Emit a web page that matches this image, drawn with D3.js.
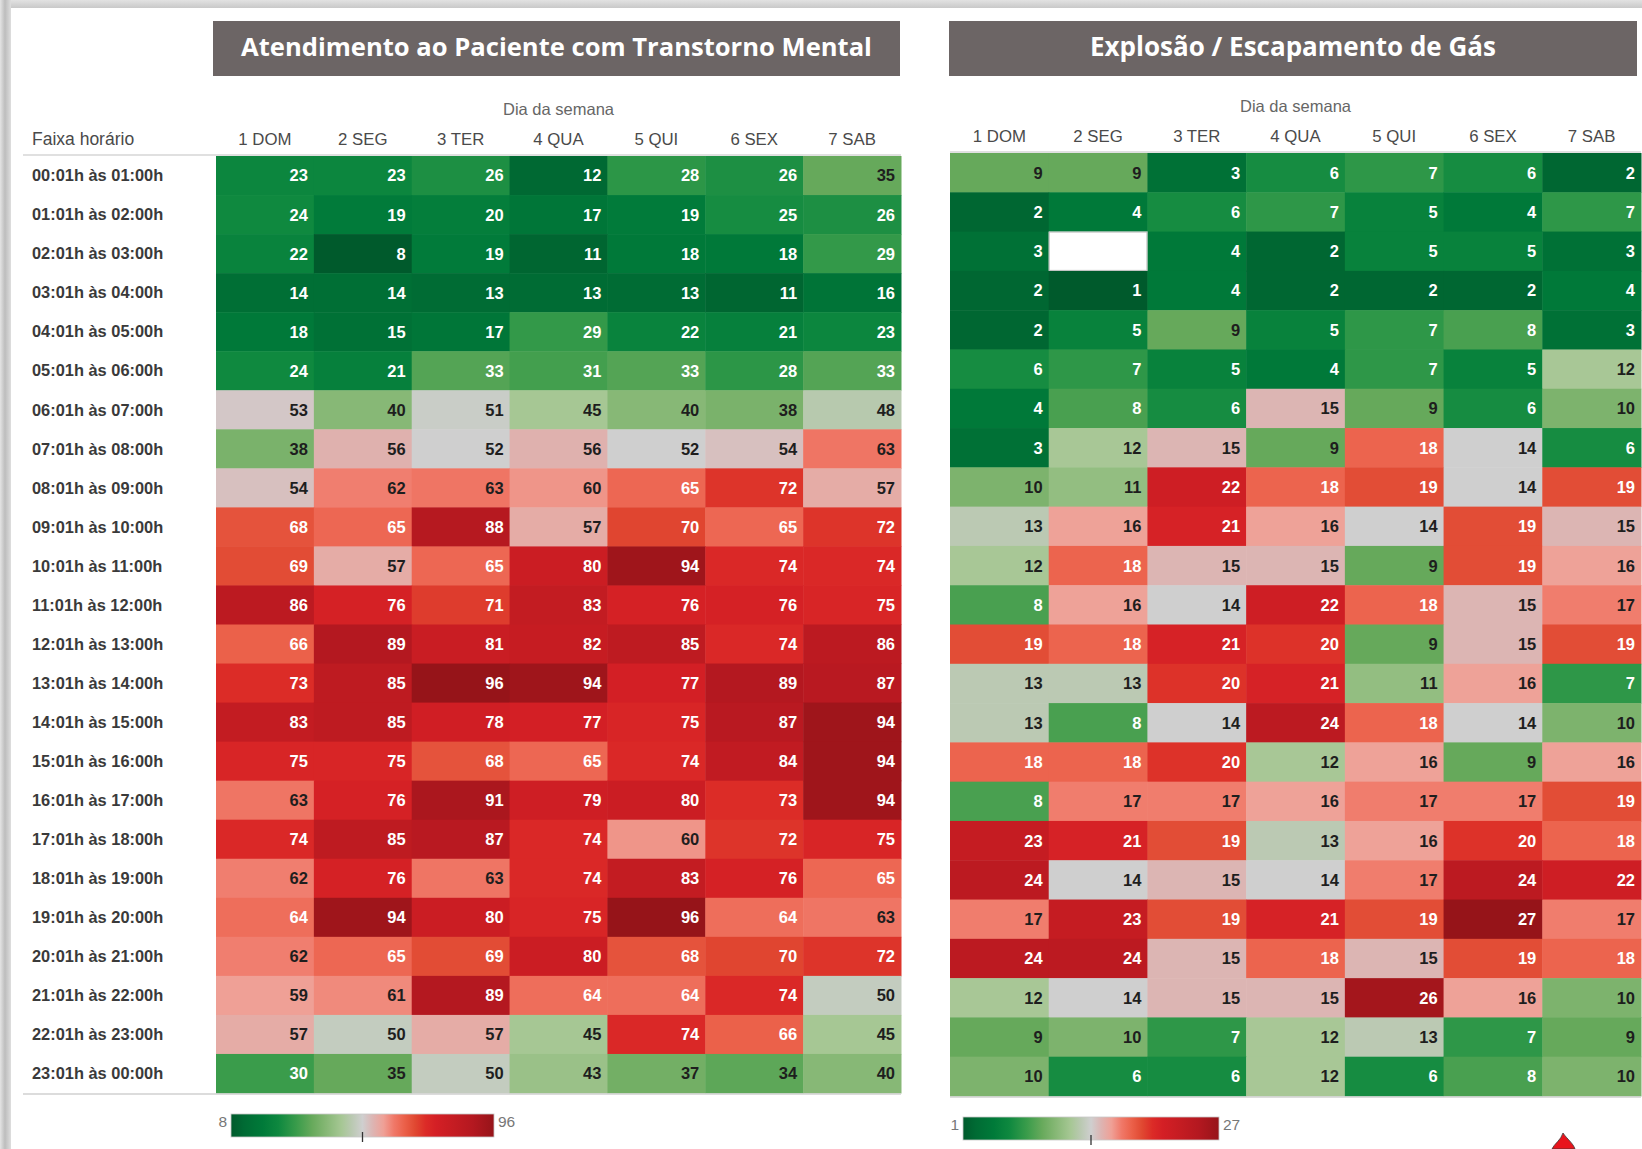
<!DOCTYPE html>
<html><head><meta charset="utf-8">
<script src="https://cdn.jsdelivr.net/npm/d3@7"></script>
<style>
html,body{margin:0;padding:0;background:#fff;}
svg{display:block;}
</style></head><body>
<svg id="c" width="1642" height="1149"></svg>
<script>
// ---------- data ----------
const days = ["1 DOM","2 SEG","3 TER","4 QUA","5 QUI","6 SEX","7 SAB"];
const hours = ["00:01h às 01:00h","01:01h às 02:00h","02:01h às 03:00h","03:01h às 04:00h",
  "04:01h às 05:00h","05:01h às 06:00h","06:01h às 07:00h","07:01h às 08:00h",
  "08:01h às 09:00h","09:01h às 10:00h","10:01h às 11:00h","11:01h às 12:00h",
  "12:01h às 13:00h","13:01h às 14:00h","14:01h às 15:00h","15:01h às 16:00h",
  "16:01h às 17:00h","17:01h às 18:00h","18:01h às 19:00h","19:01h às 20:00h",
  "20:01h às 21:00h","21:01h às 22:00h","22:01h às 23:00h","23:01h às 00:00h"];
const mentalTitle = "Atendimento ao Paciente com Transtorno Mental";
const gasTitle = "Explosão / Escapamento de Gás";
const mentalValues = [
  [23,23,26,12,28,26,35],
  [24,19,20,17,19,25,26],
  [22,8,19,11,18,18,29],
  [14,14,13,13,13,11,16],
  [18,15,17,29,22,21,23],
  [24,21,33,31,33,28,33],
  [53,40,51,45,40,38,48],
  [38,56,52,56,52,54,63],
  [54,62,63,60,65,72,57],
  [68,65,88,57,70,65,72],
  [69,57,65,80,94,74,74],
  [86,76,71,83,76,76,75],
  [66,89,81,82,85,74,86],
  [73,85,96,94,77,89,87],
  [83,85,78,77,75,87,94],
  [75,75,68,65,74,84,94],
  [63,76,91,79,80,73,94],
  [74,85,87,74,60,72,75],
  [62,76,63,74,83,76,65],
  [64,94,80,75,96,64,63],
  [62,65,69,80,68,70,72],
  [59,61,89,64,64,74,50],
  [57,50,57,45,74,66,45],
  [30,35,50,43,37,34,40]
];
const gasValues = [
  [9,9,3,6,7,6,2],
  [2,4,6,7,5,4,7],
  [3,null,4,2,5,5,3],
  [2,1,4,2,2,2,4],
  [2,5,9,5,7,8,3],
  [6,7,5,4,7,5,12],
  [4,8,6,15,9,6,10],
  [3,12,15,9,18,14,6],
  [10,11,22,18,19,14,19],
  [13,16,21,16,14,19,15],
  [12,18,15,15,9,19,16],
  [8,16,14,22,18,15,17],
  [19,18,21,20,9,15,19],
  [13,13,20,21,11,16,7],
  [13,8,14,24,18,14,10],
  [18,18,20,12,16,9,16],
  [8,17,17,16,17,17,19],
  [23,21,19,13,16,20,18],
  [24,14,15,14,17,24,22],
  [17,23,19,21,19,27,17],
  [24,24,15,18,15,19,18],
  [12,14,15,15,26,16,10],
  [9,10,7,12,13,7,9],
  [10,6,6,12,6,8,10]
];
const colorStops = [0,0.05,0.12,0.18,0.25,0.31,0.36,0.42,0.46,0.5,0.54,0.58,0.62,0.66,0.70,0.74,0.78,0.85,0.92,1];
const colorRange = ["#005a2c","#006b34","#007a39","#0e883f","#3a9c4b","#68aa5c","#85b774","#a6c794","#bac9b2","#cfcfcf",
  "#ddb4b2","#efa096","#f07868","#eb6049","#e04831","#dc2b27","#d41f25","#c41c22","#b41820","#961419"];

// ---------- drawing ----------
const svg = d3.select("#c");
const defs = svg.append("defs");

// frame / background
svg.append("rect").attr("width",1642).attr("height",1149).attr("fill","#fff");
const gTop = defs.append("linearGradient").attr("id","gTop").attr("x1",0).attr("y1",0).attr("x2",0).attr("y2",1);
gTop.append("stop").attr("offset",0).attr("stop-color","#e2e2e2");
gTop.append("stop").attr("offset",1).attr("stop-color","#c9c9c9");
const gLeft = defs.append("linearGradient").attr("id","gLeft").attr("x1",0).attr("y1",0).attr("x2",1).attr("y2",0);
gLeft.append("stop").attr("offset",0).attr("stop-color","#e4e4e4");
gLeft.append("stop").attr("offset",0.45).attr("stop-color","#bdbdbd");
gLeft.append("stop").attr("offset",1).attr("stop-color","#dedede");
svg.append("rect").attr("x",0).attr("y",0).attr("width",1642).attr("height",8).attr("fill","url(#gTop)");
svg.append("rect").attr("x",0).attr("y",0).attr("width",11).attr("height",1149).attr("fill","url(#gLeft)");

const FONT = "'Liberation Sans', Arial, sans-serif";

function drawPanel(cfg) {
  const {values, title, gx0, gx1, gy0, gy1, boxX0, boxX1, headerY, dowY, showLabels, legend} = cfg;
  const flat = values.flat().filter(v => v != null);
  const vmin = d3.min(flat), vmax = d3.max(flat);
  const norm = d3.scaleLinear().domain([vmin, vmax]).range([0, 1]);
  const color = d3.scaleLinear().domain(colorStops).range(colorRange).interpolate(d3.interpolateRgb);
  const x = d3.scaleBand().domain(days).range([gx0, gx1]);
  const y = d3.scaleBand().domain(hours).range([gy0, gy1]);
  const g = svg.append("g");

  // title box
  g.append("rect").attr("x", boxX0).attr("y", 21).attr("width", boxX1 - boxX0).attr("height", 55)
    .attr("fill", "#6c6565");
  const t = g.append("text").attr("x", (boxX0 + boxX1) / 2).attr("y", 47).attr("dy", ".35em")
    .attr("text-anchor", "middle").attr("fill", "#fff")
    .style("font-family", "'Open Sans', 'Noto Sans', sans-serif").style("font-weight", 700)
    .style("font-size", "26px").text(title);
  const tw = t.node().getComputedTextLength();
  t.style("font-size", (26 * cfg.titleWidth / tw).toFixed(2) + "px");

  // "Dia da semana"
  g.append("text").attr("x", (gx0 + gx1) / 2).attr("y", dowY).attr("dy", ".35em")
    .attr("text-anchor", "middle").attr("fill", "#666")
    .style("font-family", FONT).style("font-size", "16.5px").text("Dia da semana");

  // column header axis
  const ax = d3.axisTop(x).tickSize(0).tickPadding(0);
  const axg = g.append("g").attr("transform", `translate(0,${headerY})`).call(ax);
  axg.select(".domain").remove();
  axg.selectAll("text").attr("dy", ".35em").attr("fill", "#4a4a4a")
    .style("font-family", FONT).style("font-size", "16.8px");

  if (showLabels) {
    g.append("text").attr("x", 32).attr("y", headerY).attr("dy", ".35em").attr("fill", "#4a4a4a")
      .style("font-family", FONT).style("font-size", "17.5px").text("Faixa horário");
    const ay = d3.axisLeft(y).tickSize(0).tickPadding(0);
    const ayg = g.append("g").attr("transform", `translate(32,0)`).call(ay);
    ayg.select(".domain").remove();
    ayg.selectAll("text").attr("text-anchor", "start").attr("x", 0).attr("dy", ".35em")
      .attr("fill", "#3a3a3a")
      .style("font-family", FONT).style("font-size", "16.4px").style("font-weight", "bold");
  }

  // cells
  const cells = [];
  values.forEach((row, i) => row.forEach((v, j) => cells.push({h: hours[i], d: days[j], v})));
  g.selectAll("rect.cell").data(cells).join("rect").attr("class", "cell")
    .attr("x", d => x(d.d)).attr("y", d => y(d.h))
    .attr("width", x.bandwidth() + 0.5).attr("height", y.bandwidth() + 0.5)
    .attr("fill", d => d.v == null ? "#fff" : color(norm(d.v)));
  g.selectAll("rect.blank").data(cells.filter(d => d.v == null)).join("rect").attr("class", "blank")
    .attr("x", d => x(d.d) + 0.5).attr("y", d => y(d.h) + 0.5)
    .attr("width", x.bandwidth() - 1).attr("height", y.bandwidth() - 1)
    .attr("fill", "#fff").attr("stroke", "#bdbdbd").attr("stroke-width", 1);
  g.selectAll("text.val").data(cells.filter(d => d.v != null)).join("text").attr("class", "val")
    .attr("x", d => x(d.d) + x.bandwidth() - 6).attr("y", d => y(d.h) + y.bandwidth() / 2)
    .attr("dy", ".36em").attr("text-anchor", "end")
    .attr("fill", d => { const n = norm(d.v); return (n >= 0.29 && n <= 0.63) ? "#1e1e1e" : "#ffffff"; })
    .style("font-family", FONT).style("font-size", "16.5px").style("font-weight", "bold")
    .text(d => d.v);

  // separator lines
  const lx0 = showLabels ? 23 : gx0;
  g.append("line").attr("x1", lx0).attr("x2", gx1).attr("y1", gy0 - 1).attr("y2", gy0 - 1)
    .attr("stroke", "#d6d6d6").attr("stroke-width", 1.5);
  g.append("line").attr("x1", lx0).attr("x2", gx1).attr("y1", gy1 + 1).attr("y2", gy1 + 1)
    .attr("stroke", "#d0d0d0").attr("stroke-width", 1.5);

  // legend
  const gid = "lg" + cfg.id;
  const lg = defs.append("linearGradient").attr("id", gid);
  colorStops.forEach((s, k) => lg.append("stop").attr("offset", s).attr("stop-color", colorRange[k]));
  const L = legend;
  const ls = d3.scaleLinear().domain([vmin, vmax]).range([L.x0, L.x1]);
  g.append("rect").attr("x", ls(vmin)).attr("y", L.y).attr("width", ls(vmax) - ls(vmin)).attr("height", 23)
    .attr("fill", `url(#${gid})`).attr("stroke", "#c8c8c8").attr("stroke-width", 0.8);
  const mid = (vmin + vmax) / 2;
  g.append("line").attr("x1", ls(mid)).attr("x2", ls(mid)).attr("y1", L.y + 18).attr("y2", L.y + 28)
    .attr("stroke", "#333").attr("stroke-width", 1.3);
  g.append("text").attr("x", ls(vmin) - 4).attr("y", L.y + 8).attr("dy", ".35em").attr("text-anchor", "end")
    .attr("fill", "#777").style("font-family", FONT).style("font-size", "15.5px").text(vmin);
  g.append("text").attr("x", ls(vmax) + 4).attr("y", L.y + 8).attr("dy", ".35em").attr("text-anchor", "start")
    .attr("fill", "#777").style("font-family", FONT).style("font-size", "15.5px").text(vmax);
}

drawPanel({id: 1, values: mentalValues, title: mentalTitle, titleWidth: 631,
  gx0: 216, gx1: 901, gy0: 156, gy1: 1093, boxX0: 213, boxX1: 900, headerY: 139, dowY: 109,
  showLabels: true, legend: {x0: 231, x1: 494, y: 1114}});
drawPanel({id: 2, values: gasValues, title: gasTitle, titleWidth: 406,
  gx0: 950, gx1: 1641, gy0: 153, gy1: 1096, boxX0: 949, boxX1: 1637, headerY: 136, dowY: 106,
  showLabels: false, legend: {x0: 963, x1: 1219, y: 1117}});

// small red logo tip at bottom-right
svg.append("path")
  .attr("d", "M1563,1133 C1561,1140 1554,1144 1552,1149 L1575,1149 C1573,1143 1567,1139 1563,1133 Z")
  .attr("fill", "#e8141c").attr("stroke", "#3a3a3a").attr("stroke-width", 0.8);
</script>
</body></html>
